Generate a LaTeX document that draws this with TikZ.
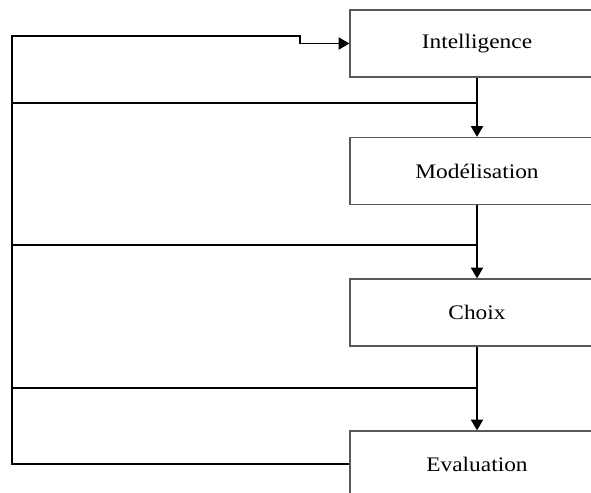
\documentclass[tikz,border=0pt]{standalone}
\usepackage{fontspec}
\setmainfont[FakeStretch=1.13]{Liberation Serif}
\usetikzlibrary{arrows.meta}
\tikzset{>={Triangle[length=8pt,width=9pt]}}
\tikzstyle{stage} = [draw=black!65, line width=0.9pt, rectangle, minimum width=190.5pt, minimum height=50.25pt, font=\fontsize{15.5}{18}\selectfont]
\tikzstyle{link} = [line width=1.2pt, black]

\begin{document}
\begin{tikzpicture}[x=0.75pt, y=-0.75pt]

\def \colx {477}
\def \leftx {12}

\useasboundingbox (0,0) rectangle (591,492);
\clip (0,0) rectangle (591,492);

  \node[stage] (intel) at (\colx,43.5) {Intelligence};
  \node[stage] (model) at (\colx,171) {Modélisation};
  \node[stage] (choix) at (\colx,312.5) {Choix};
  \node[stage] (eval)  at (\colx,464.5) {Evaluation};

  \coordinate (lb) at (\leftx,464);
  \coordinate (step) at (300,36);

  \draw[link,->] (intel.south) -- (model.north);
  \draw[link,->] (model.south) -- (choix.north);
  \draw[link,->] (choix.south) -- (eval.north);

% feedback loop back to the first stage
  \draw[link,->] (eval.west |- lb) -- (lb) |- (step) |- (intel.west);

  \foreach \y in {103, 245, 388}
    \draw[link] (\colx,\y) -- (lb |- 0,\y);

\end{tikzpicture}
\end{document}
